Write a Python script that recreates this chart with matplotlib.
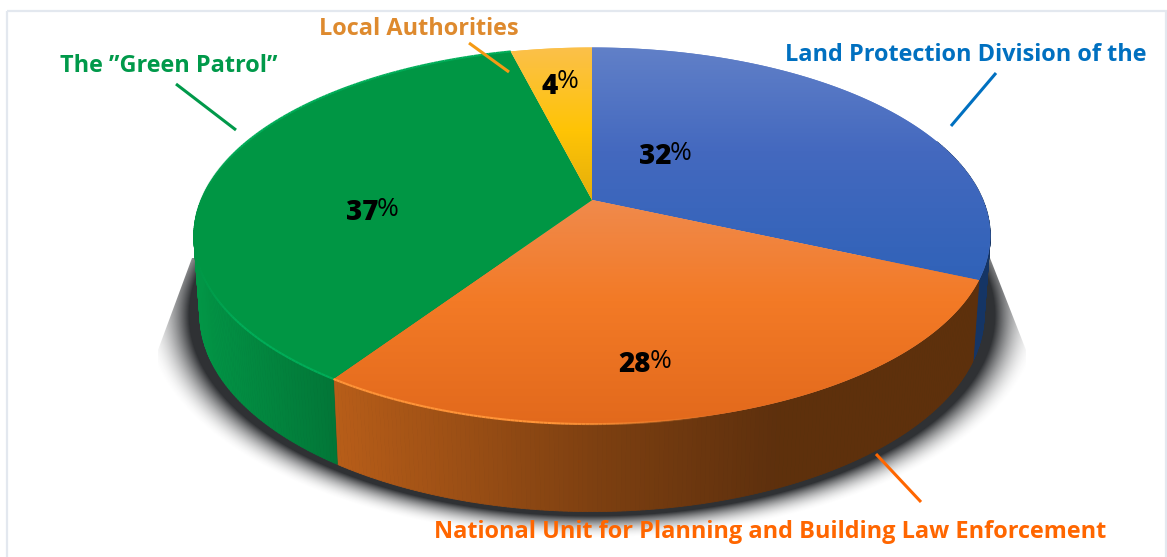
import numpy as np
import matplotlib
matplotlib.use("Agg")
import matplotlib.pyplot as plt
from matplotlib.collections import PolyCollection, LineCollection
from matplotlib.colors import to_rgb
from matplotlib.patches import Polygon

labels = ["Land Protection Division of the",
          "National Unit for Planning and Building Law Enforcement",
          'The ”Green Patrol”',
          "Local Authorities"]
shares = [32, 28, 37, 4]
label_colors = ["#0070c0", "#ff6600", "#00994a", "#de8a2e"]
leader_colors = ["#0070c0", "#ff6600", "#00994a", "#f59a14"]
side_colors = ["#2358a8", "#f07a20", "#029a48", "#ffc000"]

# vertical colour stops of every top face (pixel row, colour)
top_stops = [
    [(47, "#6180c8"), (150, "#4469bf"), (285, "#2f62b8")],
    [(200, "#f08a4c"), (300, "#f37a26"), (425, "#e2691c")],
    [(47, "#009644"), (425, "#009644")],
    [(47, "#fbc04a"), (130, "#ffc405"), (200, "#e4ae0c")],
]

W, H = 1167, 557
plt.rcParams["font.family"] = ["Open Sans", "DejaVu Sans"]

fig = plt.figure(figsize=(W / 100, H / 100), dpi=100)
ax = fig.add_axes([0, 0, 1, 1])
ax.set_xlim(0, W)
ax.set_ylim(H, 0)
ax.axis("off")


# perspective disc: angle clockwise from the top, to pixels
def rim(theta, cy, a, b):
    u = np.sin(theta)
    v = -np.cos(theta)
    w = 1 - 0.19 * v
    return 592 + a * u / w, cy + b * v / w


def top_rim(theta):
    return rim(theta, 200, 391, 181.5)


def low_rim(theta):
    return rim(theta, 277, 385, 190)


def ramp(stops):
    rows = np.arange(H)
    ys = [s[0] for s in stops]
    cols = np.array([to_rgb(s[1]) for s in stops])
    img = np.stack([np.interp(rows, ys, cols[:, i]) for i in range(3)], axis=1)
    return img[:, None, :]


ax.add_patch(plt.Rectangle((7, 11), 1159, 560, fill=False, ec="#e3e8ef", lw=1.6, zorder=0))

# shadow under the disc
xx, yy = np.meshgrid(np.arange(W) + 0.5, np.arange(H) + 0.5)
r = np.hypot((xx - 592) / 397, (yy - 315) / 198)
t = np.clip((r - 1.015) / 0.115, 0, 1)
alpha = (1 - t) ** 1.9
shadow = np.zeros((H, W, 4))
shadow[..., :3] = to_rgb("#2f3134")
shadow[..., 3] = alpha
im = ax.imshow(shadow, extent=(0, W, H, 0), aspect="auto", zorder=1, interpolation="bilinear")
im.set_clip_path(Polygon([(192, 258), (158, 350), (158, H), (1026, H), (1026, 350), (990, 258)],
                         transform=ax.transData))

edges = np.cumsum([0] + shares) / sum(shares) * 2 * np.pi

# side wall
for i in range(len(shares)):
    th = np.arange(edges[i], edges[i + 1] + 0.004, 0.01)
    th = th[-np.cos(th) > -0.35]
    if len(th) < 2:
        continue
    x1, y1 = top_rim(th)
    x2, y2 = low_rim(th)
    quads = []
    cols = []
    base = np.array(to_rgb(side_colors[i]))
    for j in range(len(th) - 1):
        quads.append([(x1[j], y1[j]), (x1[j + 1], y1[j + 1]), (x2[j + 1], y2[j + 1]), (x2[j], y2[j])])
        f = np.interp(x1[j], [195, 340, 600, 780, 1000], [0.97, 0.76, 0.52, 0.39, 0.39])
        if i == 0:
            f = 0.6
        cols.append(base * f)
    ax.add_collection(PolyCollection(quads, facecolors=cols, edgecolors=cols, linewidths=0.6, zorder=2))

# top faces
for i in range(len(shares)):
    th = np.linspace(edges[i], edges[i + 1], 200)
    x, y = top_rim(th)
    pts = np.column_stack([np.r_[592, x], np.r_[200, y]])
    face = Polygon(pts, closed=True, fc=top_stops[i][0][1], ec="none", zorder=3)
    ax.add_patch(face)
    img = ax.imshow(ramp(top_stops[i]), extent=(0, W, H, 0), aspect="auto", zorder=3)
    img.set_clip_path(face)
    # light rim on the front edge, fading out to the right
    if i in (1, 2):
        rim_col = to_rgb("#ff9438" if i == 1 else "#00ad58")
        segs = [[(x[j], y[j]), (x[j + 1], y[j + 1])] for j in range(len(x) - 1)]
        fade = np.interp(x[:-1], [560, 720], [1, 0]) * np.interp(x[:-1], [195, 240], [0, 1])
        seg_cols = [(*rim_col, a) for a in fade]
        ax.add_collection(LineCollection(segs, colors=seg_cols, linewidths=1.5, zorder=4))

ax.set_xlim(0, W)
ax.set_ylim(H, 0)

# leader lines
leaders = [((951, 126), (996, 73)), ((876, 454), (921, 502)), ((176, 84), (236, 130)), ((469, 43), (509, 72))]
for c, (a, b) in zip(leader_colors, leaders):
    ax.plot([a[0], b[0]], [a[1], b[1]], color=c, lw=2.2, zorder=5, solid_capstyle="butt")

# category labels
label_pos = [(785, 55), (434, 532), (60, 66), (319, 29)]
for name, c, (x, y) in zip(labels, label_colors, label_pos):
    ax.text(x, y, name, color=c, fontsize=16.95, fontweight="bold", ha="left", va="center", zorder=6)

# percent labels, digits heavy and the sign light
pct_pos = [(671, 157), (651, 365), (378, 213), (558, 86)]
for s, (x, y) in zip(shares, pct_pos):
    ax.text(x, y, str(s), color="black", fontsize=20, fontweight=800, ha="right", va="center", zorder=6)
    ax.text(x - 1, y - 4, "%", color="black", fontsize=19, fontweight=400, ha="left", va="center", zorder=6)

fig.savefig("out.png", dpi=100)
